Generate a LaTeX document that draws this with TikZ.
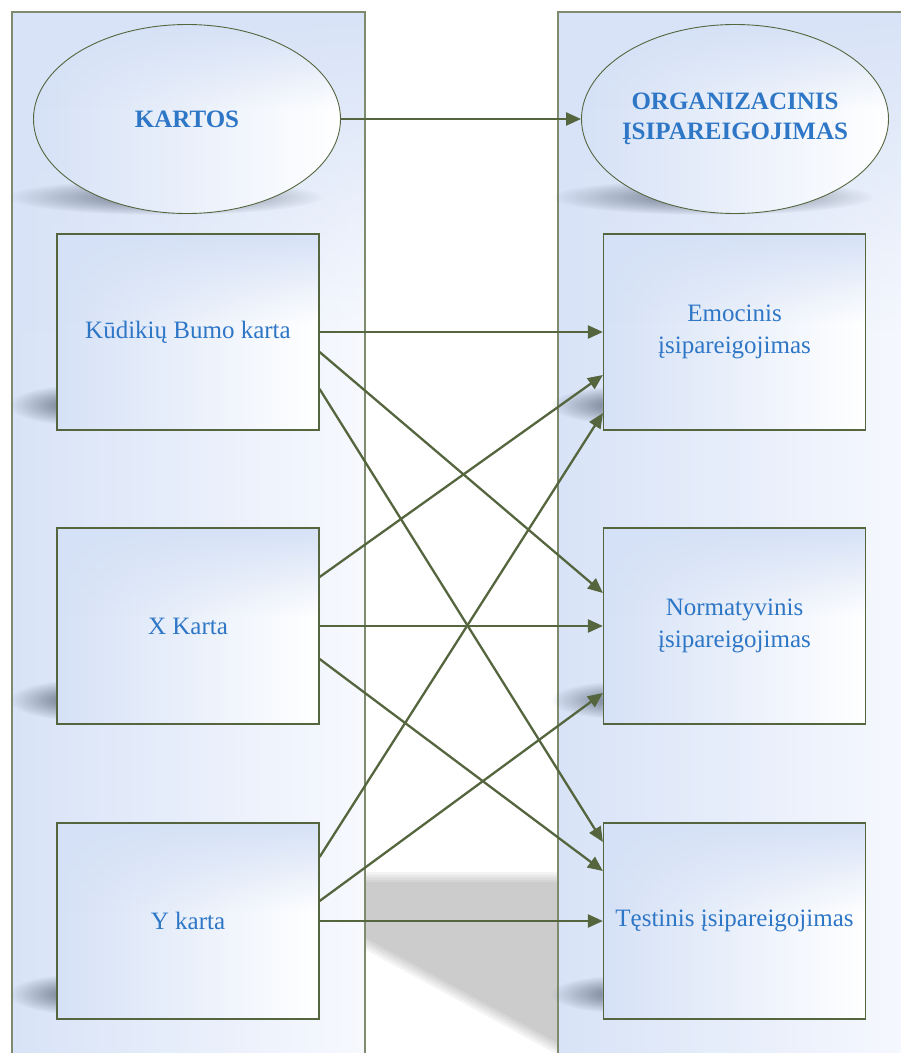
\documentclass[tikz,border=0pt]{standalone}
\usepackage{fontspec}
\setmainfont{Liberation Serif}
\usetikzlibrary{arrows.meta,shapes.geometric,fadings,calc}
\definecolor{colblue}{HTML}{D8E3F7}
\definecolor{colbluelight}{HTML}{F7F9FE}
\definecolor{boxblue}{HTML}{D5E1F6}
\definecolor{boxmid}{HTML}{F1F5FD}
\definecolor{txtblue}{HTML}{2E76C6}
\definecolor{olive}{HTML}{55663F}
\definecolor{colline}{HTML}{7E8B6E}
\definecolor{shadowc}{HTML}{4A5568}
\pgfdeclarelayer{bg}
\pgfdeclarelayer{shadowlayer}
\pgfdeclarelayer{filllayer}
\pgfsetlayers{bg,shadowlayer,filllayer,main}
\tikzfading[name=topdown, top color=transparent!0, bottom color=transparent!100]
\tikzfading[name=softblob, inner color=transparent!0, outer color=transparent!100]
\tikzset{
  gbox/.style={rectangle, draw=olive, line width=1.2pt, minimum width=262pt, minimum height=196pt,
    inner sep=0pt, align=center, text=txtblue, font=\fontsize{25}{32}\selectfont},
  gell/.style={ellipse, draw=olive, line width=0.9pt, minimum width=307pt, minimum height=189pt,
    inner sep=0pt},
  etext/.style={align=center, text=txtblue, inner sep=0pt, font=\fontsize{25}{30}\selectfont\bfseries},
  conn/.style={draw=olive, line width=2.3pt, -{Triangle[length=15pt,width=13pt]}},
  blob/.style={fill=shadowc, opacity=0.8, path fading=softblob},
  column/.style={draw=colline, line width=1.3pt, left color=colblue, right color=colbluelight},
  gfill/.style={left color=boxblue, middle color=boxmid, right color=white},
}
\newcommand\mybxfill[1]{%
  \shade[gfill] (#1.south west) rectangle (#1.north east);
  \fill[boxblue, path fading=topdown] (#1.north west) rectangle ($(#1.north east)!0.45!(#1.south east)$);}
\newcommand\myelfill[1]{%
  \shade[gfill] (#1.center) ellipse [x radius=153.5, y radius=94.5];
  \begin{scope}
    \clip (#1.center) ellipse [x radius=153.5, y radius=94.5];
    \fill[boxblue, path fading=topdown] ($(#1.center)+(-155,-96)$) rectangle ($(#1.center)+(155,-10)$);
  \end{scope}}
\begin{document}
\begin{tikzpicture}[x=1pt,y=-1pt]
\useasboundingbox (0,0) rectangle (901,1053);

% nodes
\node[gell] (kartos) at (187,119) {};
\node[etext] (kartost) at (kartos) {KARTOS};
\node[gell] (org) at (735,119) {};
\node[etext] (orgt) at (org) {ORGANIZACINIS\\ĮSIPAREIGOJIMAS};

\node[gbox] (kb) at (188,332) {Kūdikių Bumo karta};
\node[gbox] (xk) at (188,626) {X Karta};
\node[gbox] (yk) at (188,921) {Y karta};

\node[gbox] (em) at (734.5,332) {Emocinis\\įsipareigojimas};
\node[gbox] (no) at (734.5,626) {Normatyvinis\\įsipareigojimas};
\node[gbox] (te) at (734.5,921) {Tęstinis įsipareigojimas};

% background: big shadow and columns
\begin{pgfonlayer}{bg}
  \foreach \d in {10,7.5,5,2.5,0} {
    \fill[black, opacity=0.045] (300,882-\d) -- (600,882-\d) -- (600,1066+1.2*\d) -- (300,902+1.2*\d) -- cycle;
  }
  \draw[column] (12,12) rectangle (365,1080);
  \fill[colblue, path fading=topdown] (13,13) rectangle (364,330);
  \draw[column] (558,12) rectangle (920,1080);
  \fill[colblue, path fading=topdown] (559,13) rectangle (919,330);
  \draw[colline, line width=1.3pt] (12,1080) -- (12,12) -- (365,12) -- (365,1080);
  \draw[colline, line width=1.3pt] (558,1080) -- (558,12) -- (920,12);
\end{pgfonlayer}

% shadows
\begin{pgfonlayer}{shadowlayer}
  \fill[blob] (165,197) ellipse [x radius=158, y radius=18];
  \fill[blob] (712,197) ellipse [x radius=162, y radius=18];
  \foreach \yy in {405,700,994} {
    \fill[blob] (75,\yy) ellipse [x radius=66, y radius=20];
    \fill[blob] (622,\yy) ellipse [x radius=72, y radius=19];
  }
\end{pgfonlayer}

% fills
\begin{pgfonlayer}{filllayer}
  \myelfill{kartos}
  \myelfill{org}
  \mybxfill{kb}\mybxfill{xk}\mybxfill{yk}
  \mybxfill{em}\mybxfill{no}\mybxfill{te}
\end{pgfonlayer}

% connectors
\draw[conn] (kartos.east) -- (org.west);

\draw[conn] (kb.east) -- (em.west);
\draw[conn] ([yshift=-20pt]kb.east) -- ([yshift=33pt]no.west);
\draw[conn] ([yshift=-57pt]kb.east) -- ([yshift=79pt]te.west);

\draw[conn] ([yshift=49pt]xk.east) -- ([yshift=-43pt]em.west);
\draw[conn] (xk.east) -- (no.west);
\draw[conn] ([yshift=-33pt]xk.east) -- ([yshift=50pt]te.west);

\draw[conn] ([yshift=64pt]yk.east) -- ([yshift=-81pt]em.west);
\draw[conn] ([yshift=20pt]yk.east) -- ([yshift=-67pt]no.west);
\draw[conn] (yk.east) -- (te.west);
\end{tikzpicture}
\end{document}
